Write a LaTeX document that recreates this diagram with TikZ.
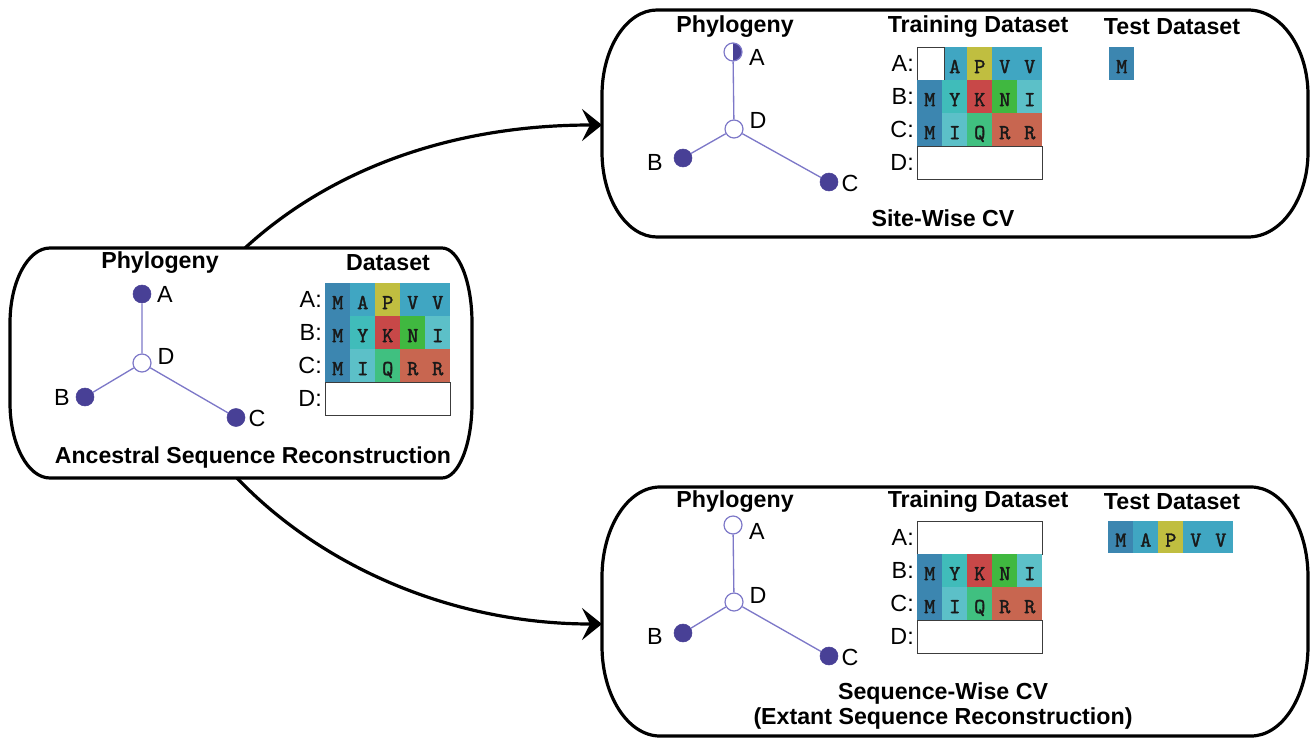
\documentclass[tikz,border=0pt]{standalone}
\usepackage{fontspec}
\setmainfont{Liberation Sans}
\newfontfamily\cellfont{lmmono10-regular.otf}[FakeBold=1.5]
\usetikzlibrary{arrows.meta}

% residue colours
\definecolor{cM}{RGB}{60,134,176}
\definecolor{cA}{RGB}{64,166,194}
\definecolor{cP}{RGB}{192,190,64}
\definecolor{cY}{RGB}{64,188,186}
\definecolor{cK}{RGB}{200,72,72}
\definecolor{cN}{RGB}{64,184,64}
\definecolor{cI}{RGB}{92,192,200}
\definecolor{cQ}{RGB}{64,192,128}
\definecolor{cR}{RGB}{200,102,80}
% tree colours
\definecolor{treeedge}{RGB}{125,120,200}
\definecolor{treefill}{RGB}{72,64,150}
\definecolor{emptyline}{RGB}{60,60,60}

% outline of a panel: straight top/bottom, elliptical sides
% #1 left, #2 top, #3 right, #4 bottom, #5 left x-radius, #6 right x-radius, #7 y-radius (all in px)
\newcommand\panelbox[7]{%
  \draw[panel] ({#1+#5},#2) -- ({#3-#6},#2)
    arc[start angle=90,end angle=0,x radius=#6*0.75pt,y radius=#7*0.75pt]
    -- (#3,{#4-#7})
    arc[start angle=0,end angle=-90,x radius=#6*0.75pt,y radius=#7*0.75pt]
    -- ({#1+#5},#4)
    arc[start angle=270,end angle=180,x radius=#5*0.75pt,y radius=#7*0.75pt]
    -- (#1,{#2+#7})
    arc[start angle=180,end angle=90,x radius=#5*0.75pt,y radius=#7*0.75pt]
    -- cycle;}

\begin{document}
\begin{tikzpicture}[x=0.75pt,y=-0.75pt,
  panel/.style={line width=2.4pt,black},
  flow/.style={line width=2.4pt,black,-{Stealth[length=15pt,width=24pt,inset=6pt]}},
  title/.style={font=\bfseries\fontsize{17.4}{20}\selectfont,inner sep=0},
  bigtitle/.style={font=\bfseries\fontsize{17.3}{20}\selectfont,inner sep=0},
  lbl/.style={font=\fontsize{17.5}{20}\selectfont,inner sep=0},
  cell/.style={anchor=north west,minimum width=18.75pt,minimum height=24.75pt,
    inner sep=0,text height=14pt,text depth=0pt,font=\cellfont\fontsize{16}{18}\selectfont,
    text=black!90},
  emptyseq/.style={anchor=north west,draw=emptyline,line width=0.8pt,fill=white,
    minimum height=24.75pt,inner sep=0},
  edge/.style={draw=treeedge,line width=1pt},
  leaf/.style={circle,fill=treefill,draw=treefill,minimum size=13.5pt,inner sep=0},
  anc/.style={circle,fill=white,draw=treeedge,line width=0.9pt,minimum size=13.5pt,inner sep=0},
  half/.style={anc,path picture={\fill[treefill] (path picture bounding box.north)
    rectangle (path picture bounding box.south east);}},
]
\useasboundingbox (0,0) rectangle (1312,739);

% ---------- panel outlines ----------
\panelbox{10}{248}{472}{478}{40}{30}{75}
\panelbox{602}{10}{1308}{237}{55}{60}{85}
\panelbox{602}{487}{1308}{736}{58}{57}{90}

% ---------- Ancestral Sequence Reconstruction ----------
\node[title] (asrPhy) at (160,263) {Phylogeny};
\node[title] (asrData) at (388,263) {Dataset};
\node[bigtitle] (asrName) at (253,458) {Ancestral Sequence Reconstruction};

\node[leaf] (asrA) at (142,294) {};
\node[anc]  (asrD) at (142,363) {};
\node[leaf] (asrB) at (85,397) {};
\node[leaf] (asrC) at (236,417.5) {};
\draw[edge] (asrA) -- (asrD) (asrD) -- (asrB) (asrD) -- (asrC);
\node[lbl] (asrAl) at (165,294) {A};
\node[lbl] (asrDl) at (166,356) {D};
\node[lbl] (asrBl) at (62,397) {B};
\node[lbl] (asrCl) at (257,418) {C};

\foreach \L/\C [count=\i from 0] in {M/cM,A/cA,P/cP,V/cA,V/cA}
  \node[cell,fill=\C] (asrA\i) at ({325+25*\i},283) {\L};
\foreach \L/\C [count=\i from 0] in {M/cM,Y/cY,K/cK,N/cN,I/cI}
  \node[cell,fill=\C] (asrB\i) at ({325+25*\i},316) {\L};
\foreach \L/\C [count=\i from 0] in {M/cM,I/cI,Q/cQ,R/cR,R/cR}
  \node[cell,fill=\C] (asrC\i) at ({325+25*\i},349) {\L};
\node[emptyseq,minimum width=93.75pt] (asrDseq) at (325,382) {};
\node[lbl,anchor=east] (asrRA) at (322,299.5) {A:};
\node[lbl,anchor=east] (asrRB) at (322,332.5) {B:};
\node[lbl,anchor=east] (asrRC) at (322,365.5) {C:};
\node[lbl,anchor=east] (asrRD) at (322,398.5) {D:};

% ---------- Site-Wise CV ----------
\node[title] (swPhy) at (735,27) {Phylogeny};
\node[title] (swTrain) at (978,27) {Training Dataset};
\node[title] (swTest) at (1172,27) {Test Dataset};
\node[title] (swName) at (943,218) {Site-Wise CV};

\node[half] (swA) at (733,52) {};
\node[anc]  (swD) at (734,129) {};
\node[leaf] (swB) at (683,158) {};
\node[leaf] (swC) at (829,182) {};
\draw[edge] (swA) -- (swD) (swD) -- (swB) (swD) -- (swC);
\node[lbl] (swAl) at (757,57) {A};
\node[lbl] (swDl) at (758,120) {D};
\node[lbl] (swBl) at (655,162) {B};
\node[lbl] (swCl) at (850,183) {C};

\foreach \L/\C [count=\i from 1] in {A/cA,P/cP,V/cA,V/cA}
  \node[cell,fill=\C] (swA\i) at ({917+25*\i},47) {\L};
\node[emptyseq,minimum width=20pt] (swA0) at (917,47) {};
\foreach \L/\C [count=\i from 0] in {M/cM,Y/cY,K/cK,N/cN,I/cI}
  \node[cell,fill=\C] (swB\i) at ({917+25*\i},80) {\L};
\foreach \L/\C [count=\i from 0] in {M/cM,I/cI,Q/cQ,R/cR,R/cR}
  \node[cell,fill=\C] (swC\i) at ({917+25*\i},113) {\L};
\node[emptyseq,minimum width=93.75pt] (swDseq) at (917,146) {};
\node[lbl,anchor=east] (swRA) at (914,63.5) {A:};
\node[lbl,anchor=east] (swRB) at (914,96.5) {B:};
\node[lbl,anchor=east] (swRC) at (914,129.5) {C:};
\node[lbl,anchor=east] (swRD) at (914,162.5) {D:};

\node[cell,fill=cM] (swTestM) at (1109,47) {M};

% ---------- Sequence-Wise CV ----------
\node[title] (qwPhy) at (735,502) {Phylogeny};
\node[title] (qwTrain) at (978,502) {Training Dataset};
\node[title] (qwTest) at (1172,502) {Test Dataset};
\node[title] (qwName) at (943,693) {Sequence-Wise CV};
\node[title] (qwSub) at (943,718) {(Extant Sequence Reconstruction)};

\node[anc]  (qwA) at (733,525) {};
\node[anc]  (qwD) at (734,602) {};
\node[leaf] (qwB) at (683,633) {};
\node[leaf] (qwC) at (829,656) {};
\draw[edge] (qwA) -- (qwD) (qwD) -- (qwB) (qwD) -- (qwC);
\node[lbl] (qwAl) at (757,531) {A};
\node[lbl] (qwDl) at (758,595) {D};
\node[lbl] (qwBl) at (655,636) {B};
\node[lbl] (qwCl) at (850,657) {C};

\node[emptyseq,minimum width=93.75pt] (qwAseq) at (917,521) {};
\foreach \L/\C [count=\i from 0] in {M/cM,Y/cY,K/cK,N/cN,I/cI}
  \node[cell,fill=\C] (qwB\i) at ({917+25*\i},554) {\L};
\foreach \L/\C [count=\i from 0] in {M/cM,I/cI,Q/cQ,R/cR,R/cR}
  \node[cell,fill=\C] (qwC\i) at ({917+25*\i},587) {\L};
\node[emptyseq,minimum width=93.75pt] (qwDseq) at (917,620) {};
\node[lbl,anchor=east] (qwRA) at (914,537.5) {A:};
\node[lbl,anchor=east] (qwRB) at (914,570.5) {B:};
\node[lbl,anchor=east] (qwRC) at (914,603.5) {C:};
\node[lbl,anchor=east] (qwRD) at (914,636.5) {D:};

\foreach \L/\C [count=\i from 0] in {M/cM,A/cA,P/cP,V/cA,V/cA}
  \node[cell,fill=\C,minimum height=24pt] (qwT\i) at ({1108+25*\i},521) {\L};

% ---------- connectors between panels ----------
\coordinate (asrTop) at (245,248);
\coordinate (asrBot) at (237,478);
\coordinate (swIn) at (602,125);
\coordinate (qwIn) at (602,624);
\draw[flow] (asrTop) .. controls (330,170) and (450,125) .. (swIn);
\draw[flow] (asrBot) .. controls (320,565) and (450,624) .. (qwIn);
\end{tikzpicture}
\end{document}
